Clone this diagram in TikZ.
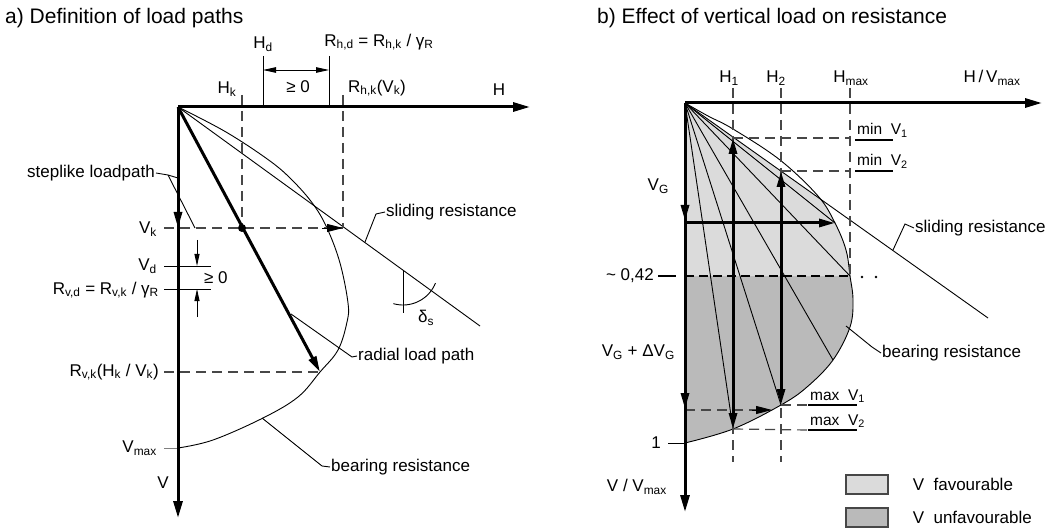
\documentclass[tikz,border=0pt]{standalone}
\usepackage{fontspec}
\setmainfont{Liberation Sans}
\usetikzlibrary{arrows.meta,positioning}
\definecolor{lightfill}{gray}{0.86}
\definecolor{darkfill}{gray}{0.73}
\definecolor{dashgray}{gray}{0.28}

\begin{document}
\begin{tikzpicture}[x=1pt, y=-1pt,
  font=\fontsize{17}{20}\selectfont,
  every node/.style={inner sep=1pt},
  ttl/.style={anchor=west, font=\fontsize{21}{24}\selectfont},
  sml/.style={font=\fontsize{15.5}{18}\selectfont},
  ax/.style={line width=3pt, -{Triangle[length=17pt,width=9pt]}},
  thk/.style={line width=3pt},
  tip/.style={-{Triangle[length=16pt,width=8pt]}},
  tips/.style={{Triangle[length=16pt,width=8pt]}-{Triangle[length=16pt,width=8pt]}},
  ln/.style={line width=0.9pt},
  ldr/.style={line width=0.9pt},
  dsh/.style={line width=1.2pt, dashgray, dash pattern=on 10pt off 6pt},
  dim/.style={line width=0.9pt, -{Triangle[length=12pt,width=5pt]}},
  dims/.style={line width=0.9pt, {Triangle[length=13pt,width=5.5pt]}-{Triangle[length=13pt,width=5.5pt]}},
  ubar/.style={line width=2.8pt},
  lgbox/.style={draw=dashgray, line width=1.2pt, minimum width=42pt, minimum height=19pt, inner sep=0pt}
]
\useasboundingbox (0,0) rectangle (1062,529);

% a) load paths
\coordinate (oa) at (178,107);
\coordinate (hend) at (530,107);
\coordinate (vend) at (178,518);
\coordinate (pk) at (242,228);
\coordinate (rk) at (320,372);
\coordinate (sk) at (343,228);
\coordinate (slend) at (480,326);

\draw[ln] plot[smooth, tension=0.6] coordinates {(178,107) (226,132) (270,161) (293,181) (313,204) (327,228) (340,263) (348,303) (347,322) (338,350) (320,372) (298,397) (263,418) (213,440) (178,448)};
\draw[ln] (oa) -- (slend);

\draw[dsh] (242,95) -- (pk);
\draw[dsh] (343,95) -- (sk);
\draw[dsh] (164,228) -- (sk);
\draw[dsh] (164,372) -- (rk);
\draw[ln] (263,56) -- (263,107);
\draw[ln] (329,56) -- (329,107);
\draw[dims] (263,70) -- (329,70);
\draw[ln] (164,266) -- (211,266);
\draw[ln] (164,289) -- (211,289);
\draw[dim] (197,240) -- (197,266);
\draw[dim] (197,317) -- (197,289);
\draw[ln, gray] (164,448) -- (178,448);

\draw[ax] (oa) -- (hend);
\draw[ax] (oa) -- (vend);
\draw[thk, tip] (178,195) -- (178,228);
\draw[ln, tip] (322,228) -- (sk);
\draw[thk, tip] (oa) -- (rk);
\fill (pk) circle (4pt);
\draw[ln] plot[domain=22:106, samples=20] ({403+35*cos(\x)},{270+35*sin(\x)});
\draw[ln] (403,270) -- (403,313);

\node[ttl] (ta) at (4,18) {a) Definition of load paths};
\node (lhk) at (227,89) {H\textsubscript{k}};
\node (lhd) at (263,44) {H\textsubscript{d}};
\node (lrhd) at (379,42) {R\textsubscript{h,d} = R\textsubscript{h,k} / γ\textsubscript{R}};
\node (lge) at (298,87) {≥ 0};
\node (lrhk) at (377,88) {R\textsubscript{h,k}(V\textsubscript{k})};
\node (lh) at (499,90) {H};
\node[anchor=east] (lvk) at (158,229) {V\textsubscript{k}};
\node[anchor=east] (lvd) at (158,266) {V\textsubscript{d}};
\node[anchor=east] (lrvd) at (160,290) {R\textsubscript{v,d} = R\textsubscript{v,k} / γ\textsubscript{R}};
\node[anchor=west] (lge2) at (203,278) {≥ 0};
\node[anchor=east] (lrvk) at (160,372) {R\textsubscript{v,k}(H\textsubscript{k} / V\textsubscript{k})};
\node[anchor=east] (lvmax) at (158,448) {V\textsubscript{max}};
\node (lv) at (163,483) {V};
\node[anchor=east] (lstep) at (156,173) {steplike loadpath};
\node[anchor=west] (lslia) at (385,212) {sliding resistance};
\node (lds) at (426,318) {δ\textsubscript{s}};
\node[anchor=west] (lrad) at (357,356) {radial load path};
\node[anchor=west] (lbra) at (330,467) {bearing resistance};

\coordinate (stepk) at (168,175);
\draw[ldr] (lstep.east) -- (stepk) -- (178,178);
\draw[ldr] (stepk) -- (195,228);
\draw[ldr] (365,242) -- (376,214) -- (lslia.west);
\draw[ldr] (291,314) -- (352,357) -- (lrad.west);
\draw[ldr] (262,418) -- (322,466) -- (lbra.west);

% b) vertical load
\coordinate (ob) at (685,103);
\coordinate (hbend) at (1042,103);
\coordinate (vbend) at (685,512);
\coordinate (sbend) at (988,318);
\coordinate (mn1) at (733,138);
\coordinate (mn2) at (781,171);
\coordinate (mx1) at (781,405);
\coordinate (mx2) at (733,429);
\coordinate (hmc) at (850,276);
\coordinate (vgt) at (835,223);

\begin{scope}
  \clip plot[smooth, tension=0.6] coordinates {(685,103) (708,116) (733,129) (780,160) (818,196) (835,223) (846,250) (850,276) (853,300) (850,327) (833,360) (807,387) (781,405) (733,429) (685,443)} -- cycle;
  \fill[darkfill] (685,276) rectangle (900,450);
  \fill[lightfill] (ob) -- (929,276) -- (685,276) -- cycle;
\end{scope}
\draw[ln] plot[smooth, tension=0.6] coordinates {(685,103) (708,116) (733,129) (780,160) (818,196) (835,223) (846,250) (850,276) (853,300) (850,327) (833,360) (807,387) (781,405) (733,429) (685,443)};
\draw[ln] (ob) -- (sbend);
\foreach \p in {(733,429),(781,405),(833,360),(850,276),(835,223)}
  \draw[ln] (ob) -- \p;

\draw[dsh] (733,88) -- (733,462);
\draw[dsh] (781,88) -- (781,462);
\draw[dsh] (850,88) -- (hmc);
\draw[dsh] (mn1) -- (850,138);
\draw[dsh] (mn2) -- (850,171);
\draw[dsh] (mx1) -- (808,405);
\draw[dsh] (mx2) -- (808,430);
\draw[dsh] (685,410) -- (760,410);
\draw[ln, tip] (752,410) -- (772,410);
\draw[ln] (668,443) -- (685,443);

\draw[line width=2.4pt, dash pattern=on 9pt off 5pt] (685,276) -- (hmc);
\draw[line width=2.4pt] (658,276) -- (676,276);
\fill (862,277) circle (1.4pt) (876,277) circle (1.4pt);

\draw[ax] (ob) -- (hbend);
\draw[ax] (ob) -- (vbend);
\draw[thk, tip] (685,190) -- (685,221);
\draw[thk, tip] (685,223) -- (vgt);
\draw[thk, tip] (685,380) -- (685,409);
\draw[thk, tips] (mn1) -- (mx2);
\draw[thk, tips] (mn2) -- (mx1);

\node[ttl] (tb) at (596,18) {b) Effect of vertical load on resistance};
\node (lh1) at (729,78) {H\textsubscript{1}};
\node (lh2) at (776,78) {H\textsubscript{2}};
\node (lhm) at (851,78) {H\textsubscript{max}};
\node (lhv) at (992,78) {H\,/\,V\textsubscript{max}};
\node[anchor=east] (lvg) at (670,186) {V\textsubscript{G}};
\node[anchor=east] (lvgd) at (676,352) {V\textsubscript{G} + ΔV\textsubscript{G}};
\node[anchor=east] (l042) at (655,276) {\textasciitilde\ 0,42};
\node[anchor=east] (lone) at (662,443) {1};
\node[anchor=east] (lvv) at (668,487) {V / V\textsubscript{max}};
\node[anchor=west] (lslib) at (914,228) {sliding resistance};
\node[anchor=west] (lbrb) at (881,353) {bearing resistance};

\node[sml, anchor=base west] (lmn1) at (856,135) {min\ \ V\textsubscript{1}};
\node[sml, anchor=base west] (lmn2) at (856,166) {min\ \ V\textsubscript{2}};
\node[sml, anchor=base west] (lmx1) at (809,400) {max\ \ V\textsubscript{1}};
\node[sml, anchor=base west] (lmx2) at (809,425) {max\ \ V\textsubscript{2}};
\draw[ubar] (855,140) -- (893,140);
\draw[ubar] (855,171) -- (893,171);
\draw[ubar] (808,405) -- (857,405);
\draw[ubar] (808,430) -- (857,430);

\draw[ldr] (893,250) -- (905,224) -- (lslib.west);
\draw[ldr] (846,326) -- (872,347) -- (lbrb.west);

\node[lgbox, fill=lightfill] (lgf) at (867,484.5) {};
\node[lgbox, fill=darkfill] (lgu) at (867,517.5) {};
\node[anchor=west, right=23pt of lgf] (lgft) {V\ \ favourable};
\node[anchor=west, right=23pt of lgu] (lgut) {V\ \ unfavourable};
\end{tikzpicture}
\end{document}
